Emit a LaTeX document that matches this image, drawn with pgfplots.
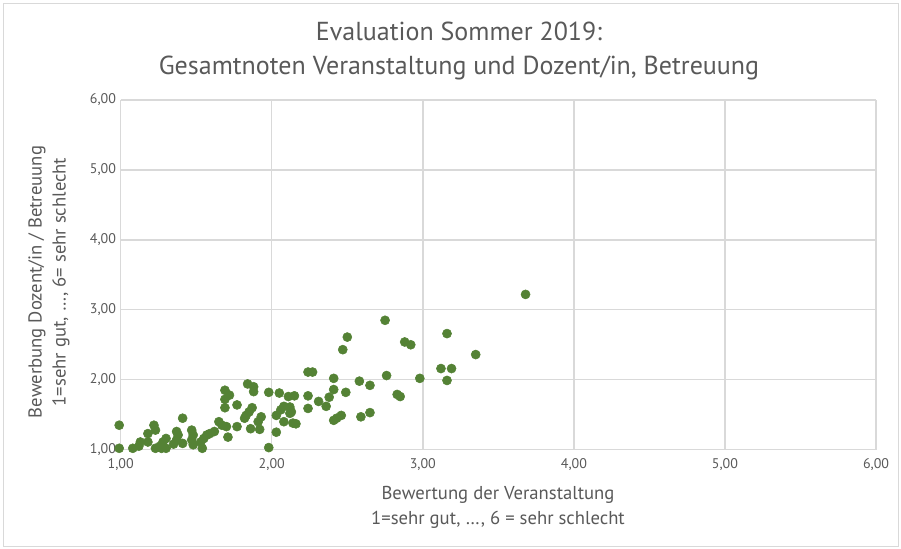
\documentclass[border=0pt]{standalone}
\usepackage{pgfplots}
\pgfplotsset{compat=1.18}
\usepackage{fontspec}
\setmainfont{PT Sans}
\definecolor{txt}{HTML}{595959}
\definecolor{grd}{HTML}{D9D9D9}
\definecolor{mk}{HTML}{548235}
\begin{document}
\begin{tikzpicture}[x=0.75pt,y=0.75pt]
\useasboundingbox (0,0) rectangle (901,549);
\draw[grd] (3,3) rectangle (898,546);
\node[txt,font=\fontsize{19.5}{24}\selectfont,align=center] at (459,498) {Evaluation Sommer 2019:\\[1pt]Gesamtnoten Veranstaltung und Dozent/in, Betreuung};
\begin{axis}[
  at={(90.525pt,74.475pt)}, anchor=south west,
  scale only axis, width=566.5pt, height=262.3pt,
  xmin=1, xmax=6, ymin=1, ymax=6, clip=false,
  xtick={1,2,3,4,5,6}, ytick={1,2,3,4,5,6},
  grid=major, grid style={grd, line width=1pt},
  axis line style={draw=none},
  major tick length=0pt,
  tick label style={txt, font=\fontsize{10.5}{12}\selectfont},
  xticklabel style={yshift=-3pt},
  /pgf/number format/.cd, fixed, fixed zerofill, precision=2, use comma, assume math mode=true,
]
\addplot[only marks, mark=*, mark size=3.4pt, mk, mark options={draw=mk, fill=mk}] coordinates {
(0.99,1.35) (0.99,1.02) (1.08,1.02) (1.12,1.05) (1.13,1.11) (1.18,1.11) (1.18,1.23)
(1.22,1.35) (1.23,1.28) (1.23,1.02) (1.26,1.05) (1.28,1.11) (1.30,1.16) (1.27,1.02)
(1.30,1.02) (1.41,1.45) (1.37,1.26) (1.38,1.21) (1.37,1.14) (1.35,1.08) (1.41,1.09)
(1.47,1.28) (1.48,1.21) (1.47,1.14) (1.48,1.07) (1.53,1.11) (1.54,1.02) (1.55,1.16)
(1.57,1.21) (1.59,1.23) (1.62,1.26) (1.65,1.40) (1.67,1.35) (1.70,1.33) (1.71,1.18)
(1.69,1.85) (1.72,1.78) (1.69,1.72) (1.69,1.60) (1.77,1.64) (1.77,1.33) (1.82,1.45)
(1.83,1.49) (1.85,1.54) (1.87,1.60) (1.86,1.30) (1.84,1.94) (1.88,1.90) (1.88,1.83)
(1.91,1.40) (1.93,1.47) (1.92,1.29) (1.98,1.82) (1.98,1.03) (2.03,1.25) (2.03,1.49)
(2.05,1.81) (2.06,1.57) (2.08,1.62) (2.08,1.40) (2.11,1.76) (2.12,1.61) (2.12,1.52)
(2.14,1.38) (2.15,1.77) (2.13,1.54) (2.24,2.11) (2.27,2.11) (2.41,2.02) (2.41,1.86)
(2.38,1.75) (2.36,1.62) (2.31,1.69) (2.24,1.77) (2.24,1.59) (2.16,1.37) (2.49,1.82)
(2.58,1.98) (2.65,1.92) (2.41,1.42) (2.43,1.45) (2.46,1.49) (2.59,1.47) (2.65,1.53)
(2.75,2.85) (2.50,2.61) (2.47,2.43) (2.88,2.54) (2.92,2.50) (3.16,2.66) (3.35,2.36)
(3.12,2.16) (3.19,2.16) (3.16,1.99) (2.98,2.02) (2.76,2.06) (2.83,1.79) (2.85,1.76)
(3.68,3.22)
};
\end{axis}
\node[txt,font=\fontsize{14}{16}\selectfont] at (498,54) {Bewertung der Veranstaltung};
\node[txt,font=\fontsize{14}{16}\selectfont] at (498,29) {1=sehr gut, …, 6 = sehr schlecht};
\node[txt,font=\fontsize{14}{16}\selectfont,rotate=90] at (37,267) {Bewerbung Dozent/in / Betreuung};
\node[txt,font=\fontsize{14}{16}\selectfont,rotate=90] at (61,267) {1=sehr gut, …, 6= sehr schlecht};
\end{tikzpicture}
\end{document}
